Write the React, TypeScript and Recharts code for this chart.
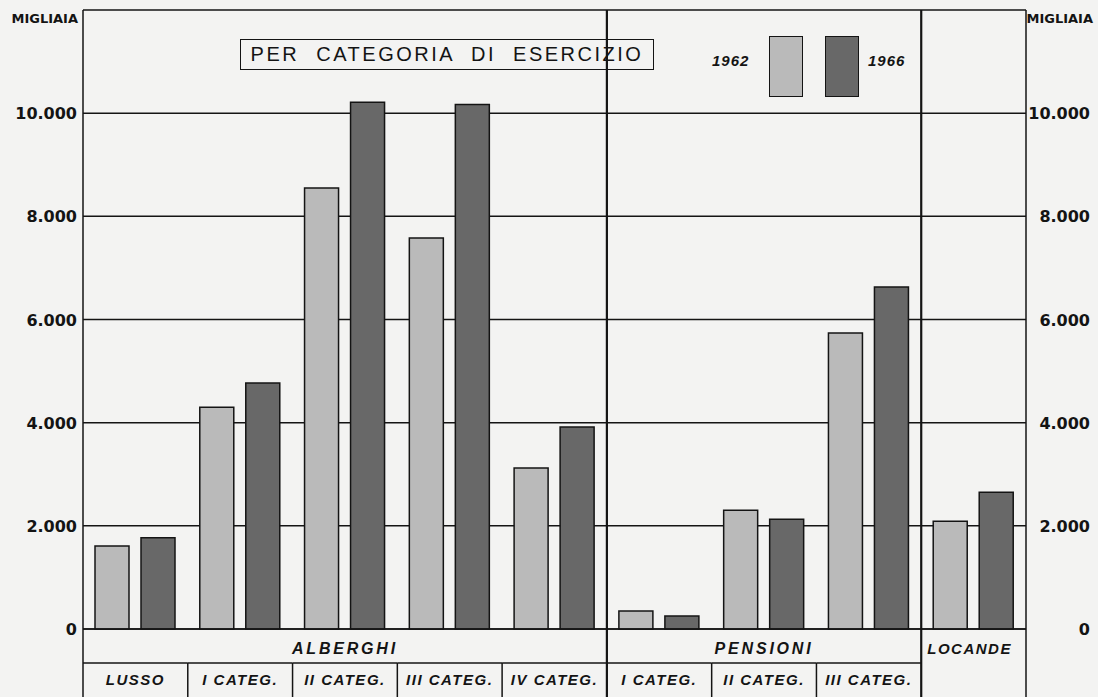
import { BarChart, Bar, XAxis, YAxis, CartesianGrid } from 'recharts';

// Presenze per categoria di esercizio, 1962 e 1966 (migliaia)

const SUB_LABELS = ['LUSSO', 'I CATEG.', 'II CATEG.', 'III CATEG.', 'IV CATEG.', 'I CATEG.', 'II CATEG.', 'III CATEG.', ''];
const GROUP_OF = [0, 0, 0, 0, 0, 1, 1, 1, 2];
const GROUPS = ['ALBERGHI', 'PENSIONI', 'LOCANDE'];
const SERIES_1962 = [1610, 4300, 8550, 7580, 3120, 350, 2300, 5740, 2090];
const SERIES_1966 = [1770, 4770, 10210, 10170, 3915, 250, 2130, 6630, 2650];
const Y_TICKS = [0, 2000, 4000, 6000, 8000, 10000, 12000];
const YEARS = ['1962', '1966'];
const COLORS = ['#bababa', '#686868'];

const data = SUB_LABELS.map((label, i) => ({
  key: `${GROUPS[GROUP_OF[i]]}-${i}`,
  label,
  v1962: SERIES_1962[i],
  v1966: SERIES_1966[i],
}));

const W = 1098;
const H = 697;
const PLOT_LEFT = 83;
const PLOT_RIGHT = 1026;
const PLOT_TOP = 10;
const BASE = 629;
const ROW_MID = 663;
const BAND = (PLOT_RIGHT - PLOT_LEFT) / SUB_LABELS.length;
const INK = '#141414';
const LABEL_FONT = '"Liberation Sans", Arial, sans-serif';
const NUM_FONT = '"DejaVu Sans", sans-serif';

const fmt = (v: number) => String(v).replace(/\B(?=(\d{3})+(?!\d))/g, '.');

function groupCenterIndex(g: number) {
  const idx = GROUP_OF.map((x, i) => (x === g ? i : -1)).filter((i) => i >= 0);
  return idx[Math.floor(idx.length / 2)];
}

function CategoryTick(props: any) {
  const { payload, index } = props;
  const cx = payload.coordinate;
  const left = cx - BAND / 2;
  const right = cx + BAND / 2;
  const g = GROUP_OF[index];
  const firstOfGroup = index === 0 || GROUP_OF[index - 1] !== g;
  const last = index === SUB_LABELS.length - 1;
  const hasSub = SUB_LABELS[index] !== '';
  return (
    <g>
      {hasSub && <line x1={left} x2={right} y1={ROW_MID} y2={ROW_MID} stroke={INK} strokeWidth={1.5} />}
      {hasSub && !firstOfGroup && <line x1={left} x2={left} y1={ROW_MID} y2={H} stroke={INK} strokeWidth={1.5} />}
      {firstOfGroup && (
        <line x1={left} x2={left} y1={index === 0 ? BASE : PLOT_TOP} y2={H} stroke={INK} strokeWidth={index === 0 ? 1.5 : 2.2} />
      )}
      {last && <line x1={right} x2={right} y1={BASE} y2={H} stroke={INK} strokeWidth={1.5} />}
      {hasSub && (
        <text
          x={cx}
          y={685}
          textAnchor="middle"
          fontFamily={LABEL_FONT}
          fontStyle="italic"
          fontWeight="bold"
          fontSize={15}
          letterSpacing={1.5}
          fill={INK}
        >
          {SUB_LABELS[index]}
        </text>
      )}
      {groupCenterIndex(g) === index && (
        <text
          x={g === 2 ? cx - 4 : cx}
          y={654}
          textAnchor="middle"
          fontFamily={LABEL_FONT}
          fontStyle="italic"
          fontWeight="bold"
          fontSize={g === 2 ? 15 : 16}
          letterSpacing={g === 2 ? 1.5 : 2.8}
          fill={INK}
        >
          {GROUPS[g]}
        </text>
      )}
    </g>
  );
}

// draws the value labels on both sides of the plot
function ValueTick(props: any) {
  const { y, payload } = props;
  if (payload.value === Y_TICKS[Y_TICKS.length - 1]) {
    return (
      <g fontFamily={NUM_FONT} fontWeight="bold" fontSize={13} fill={INK}>
        <text x={78} y={23} textAnchor="end">MIGLIAIA</text>
        <text x={1093} y={23} textAnchor="end">MIGLIAIA</text>
      </g>
    );
  }
  return (
    <g fontFamily={NUM_FONT} fontWeight="bold" fontSize={16} fill={INK}>
      <text x={77} y={y + 6} textAnchor="end">{fmt(payload.value)}</text>
      <text x={1090} y={y + 6} textAnchor="end">{fmt(payload.value)}</text>
    </g>
  );
}

export default function App() {
  return (
    <div style={{ position: 'absolute', left: 0, top: 0, width: W, height: H, background: '#f3f3f2', overflow: 'hidden' }}>
      <BarChart width={W} height={H} data={data} margin={{ top: PLOT_TOP, right: 0, bottom: 0, left: 0 }} barSize={34} barGap={12}>
        <CartesianGrid yAxisId="left" vertical={false} horizontalValues={Y_TICKS} stroke={INK} strokeWidth={1.5} strokeOpacity={1} />
        <XAxis dataKey="key" height={H - BASE} interval={0} tickLine={false} axisLine={{ stroke: INK, strokeWidth: 1.5 }} tick={<CategoryTick />} />
        <YAxis
          yAxisId="left"
          orientation="left"
          width={PLOT_LEFT}
          domain={[0, 12000]}
          ticks={Y_TICKS}
          interval={0}
          tickLine={false}
          axisLine={{ stroke: INK, strokeWidth: 1.5 }}
          tick={<ValueTick />}
        />
        <YAxis
          yAxisId="right"
          orientation="right"
          width={W - PLOT_RIGHT}
          domain={[0, 12000]}
          ticks={Y_TICKS}
          tickLine={false}
          tick={false}
          axisLine={{ stroke: INK, strokeWidth: 1.5 }}
        />
        <Bar yAxisId="left" dataKey="v1962" fill={COLORS[0]} stroke={INK} strokeWidth={1.5} isAnimationActive={false} />
        <Bar yAxisId="left" dataKey="v1966" fill={COLORS[1]} stroke={INK} strokeWidth={1.5} isAnimationActive={false} />
      </BarChart>

      <div
        style={{
          position: 'absolute',
          left: 240,
          top: 39,
          width: 414,
          height: 31,
          border: `1.5px solid ${INK}`,
          boxSizing: 'border-box',
          display: 'flex',
          alignItems: 'center',
          justifyContent: 'center',
          fontFamily: LABEL_FONT,
          fontSize: 20,
          letterSpacing: 2.5,
          wordSpacing: 9,
          color: INK,
          whiteSpace: 'nowrap',
        }}
      >
        PER CATEGORIA DI ESERCIZIO
      </div>

      <div style={{ position: 'absolute', left: 712, top: 52, fontFamily: LABEL_FONT, fontStyle: 'italic', fontWeight: 'bold', fontSize: 15, letterSpacing: 1, color: INK }}>
        {YEARS[0]}
      </div>
      <div style={{ position: 'absolute', left: 769, top: 36, width: 34, height: 61, background: COLORS[0], border: `1.5px solid ${INK}`, boxSizing: 'border-box' }} />
      <div style={{ position: 'absolute', left: 825, top: 36, width: 34, height: 61, background: COLORS[1], border: `1.5px solid ${INK}`, boxSizing: 'border-box' }} />
      <div style={{ position: 'absolute', left: 868, top: 52, fontFamily: LABEL_FONT, fontStyle: 'italic', fontWeight: 'bold', fontSize: 15, letterSpacing: 1, color: INK }}>
        {YEARS[1]}
      </div>
    </div>
  );
}
